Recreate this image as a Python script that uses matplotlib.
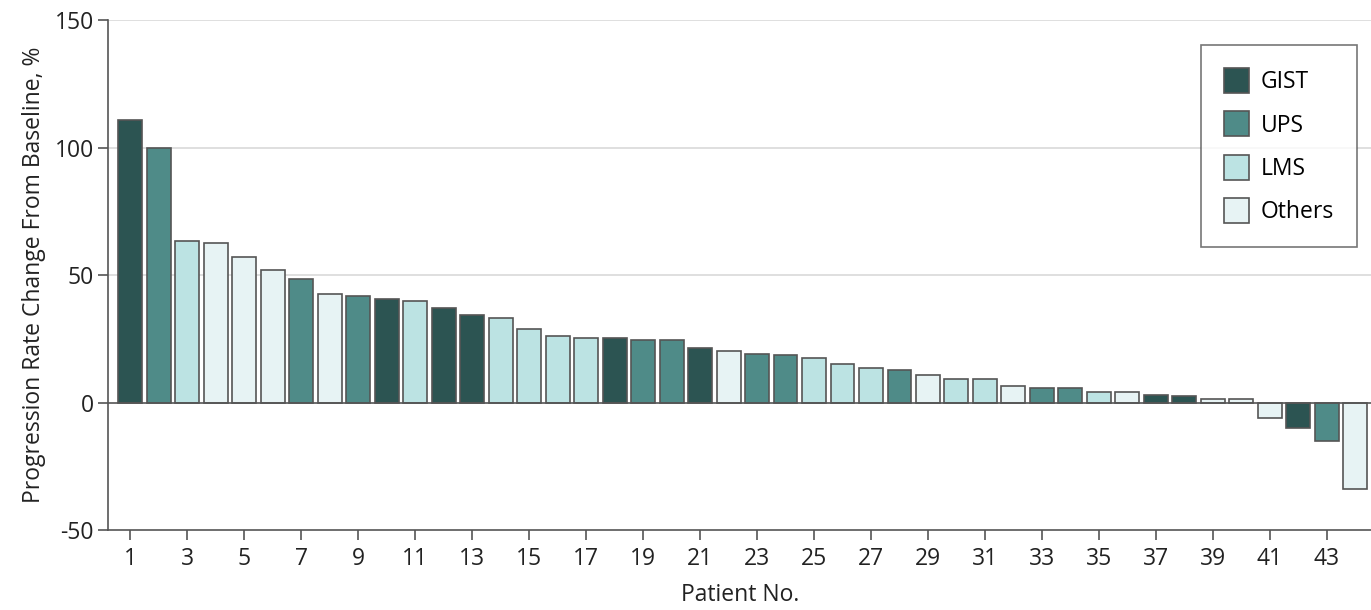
import numpy as np
import matplotlib
matplotlib.use("Agg")
import matplotlib.pyplot as plt
from matplotlib.patches import Patch

patients = list(range(1, 45))
change = [111, 100, 63.5, 62.7, 57, 52, 48.6, 42.7, 42, 40.8, 40, 37, 34.5, 33.3, 29,
          26.3, 25.5, 25.5, 24.7, 24.7, 21.6, 20.4, 19.2, 18.8, 17.3, 15.3, 13.7, 12.9,
          11, 9.4, 9.4, 6.7, 5.9, 5.9, 4.3, 4.3, 3.1, 2.4, 1.6, 1.6, -5.9, -10, -14.9, -34]
tumor = ["GIST", "UPS", "LMS", "Others", "Others", "Others", "UPS", "Others", "UPS", "GIST",
         "LMS", "GIST", "GIST", "LMS", "LMS", "LMS", "LMS", "GIST", "UPS", "UPS",
         "GIST", "Others", "UPS", "UPS", "LMS", "LMS", "LMS", "UPS", "Others", "LMS",
         "LMS", "Others", "UPS", "UPS", "LMS", "Others", "GIST", "GIST", "Others", "Others",
         "Others", "GIST", "UPS", "Others"]
types = ["GIST", "UPS", "LMS", "Others"]
colors = {"GIST": "#2c5452", "UPS": "#4f8b88", "LMS": "#bce3e3", "Others": "#e7f3f4"}

plt.rcParams["font.family"] = ["Open Sans", "DejaVu Sans"]
plt.rcParams["axes.unicode_minus"] = False

fig = plt.figure(figsize=(13.71, 6.10), dpi=100)
ax = fig.add_axes([0.079, 0.131, 0.921, 0.836])

ax.bar(patients, change, width=0.84, color=[colors[t] for t in tumor],
       edgecolor="#555555", linewidth=1.2, zorder=3)

for y in [50, 100, 150]:
    ax.axhline(y, color="#d9d9d9", linewidth=1.2, zorder=1)
ax.axhline(0, color="#555555", linewidth=1.2, zorder=4)

ax.set_xlim(0.23, 44.55)
ax.set_ylim(-50, 150)
ax.set_xticks(range(1, 44, 2))
ax.set_yticks([-50, 0, 50, 100, 150])
ax.tick_params(axis="both", labelsize=16.5, color="#555555", length=7, width=1.2,
               labelcolor="#222222")
ax.tick_params(axis="x", pad=5)
for s in ["top", "right"]:
    ax.spines[s].set_visible(False)
for s in ["left", "bottom"]:
    ax.spines[s].set_color("#555555")
    ax.spines[s].set_linewidth(1.2)

ax.set_ylabel("Progression Rate Change From Baseline, %", fontsize=16.5, color="#222222", labelpad=6)
ax.set_xlabel("Patient No.", fontsize=16.5, color="#222222", labelpad=9)

handles = [Patch(facecolor=colors[t], edgecolor="#555555", linewidth=1.2, label=t) for t in types]
leg = ax.legend(handles=handles, loc="upper right", bbox_to_anchor=(0.989, 0.951),
                fontsize=16.5, frameon=True, fancybox=False, handlelength=1.1,
                handleheight=1.3, labelspacing=0.75, borderpad=1.0, handletextpad=0.5,
                borderaxespad=0)
leg.get_frame().set_edgecolor("#555555")
leg.get_frame().set_linewidth(1.2)

fig.savefig("out.png", dpi=100)
